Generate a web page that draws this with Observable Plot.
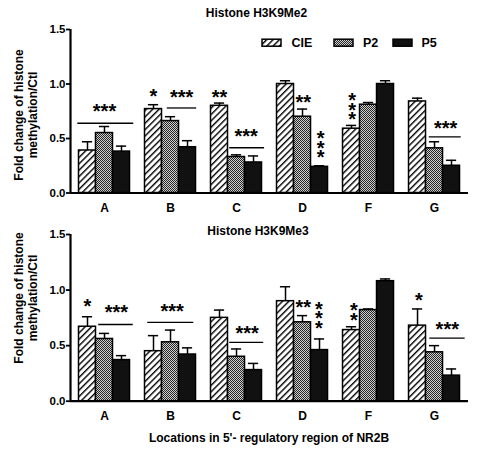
<!DOCTYPE html>
<html>
<head>
<meta charset="utf-8">
<script src="https://cdn.jsdelivr.net/npm/d3@7"></script>
<script src="https://cdn.jsdelivr.net/npm/@observablehq/plot@0.6"></script>
<style>
  html, body { margin: 0; padding: 0; background: #fff; }
  #wrap { position: relative; width: 477px; height: 453px; font-family: "Liberation Sans", Arial, sans-serif; color: #000; overflow: hidden; }
  .abs { position: absolute; white-space: nowrap; font-weight: bold; }
  .title { font-size: 12px; transform: translate(-50%, -50%); }
  .ylab { font-size: 12px; line-height: 13.5px; text-align: center; width: 200px; transform: translate(-50%, -50%) rotate(-90deg); }
  .legtext { font-size: 12.5px; transform: translateY(-50%); }
  svg.plot { position: absolute; left: 0; }
</style>
</head>
<body>
<div id="wrap"></div>
<script>
// ---------------- data ----------------
const groups = ["A", "B", "C", "D", "F", "G"];
const series = ["CIE", "P2", "P5"];
const yTicks = [0, 0.5, 1.0, 1.5];

// Histone H3K9Me2 (means and SEM)
const me2CIE    = [0.39, 0.77, 0.80, 1.00, 0.59, 0.84];
const me2CIEerr = [0.08, 0.04, 0.025, 0.03, 0.03, 0.03];
const me2P2     = [0.55, 0.66, 0.33, 0.70, 0.81, 0.41];
const me2P2err  = [0.06, 0.04, 0.02, 0.07, 0.02, 0.06];
const me2P5     = [0.38, 0.42, 0.28, 0.24, 1.00, 0.25];
const me2P5err  = [0.05, 0.06, 0.06, 0.01, 0.03, 0.05];

// Histone H3K9Me3 (means and SEM)
const me3CIE    = [0.67, 0.45, 0.75, 0.90, 0.64, 0.68];
const me3CIEerr = [0.09, 0.14, 0.07, 0.13, 0.03, 0.15];
const me3P2     = [0.56, 0.53, 0.40, 0.71, 0.82, 0.44];
const me3P2err  = [0.05, 0.11, 0.07, 0.06, 0.01, 0.06];
const me3P5     = [0.37, 0.42, 0.28, 0.46, 1.08, 0.23];
const me3P5err  = [0.04, 0.06, 0.06, 0.10, 0.02, 0.06];

// significance annotations: group, offset within group (bar units), y value, label
const me2Stars = [
  {g: "A", at: 1.5, y: 0.757, t: "***"},
  {g: "B", at: 0.5, y: 0.895, t: "*"},
  {g: "B", at: 2.16, y: 0.89, t: "***"},
  {g: "C", at: 0.5, y: 0.885, t: "**"},
  {g: "C", at: 2.07, y: 0.53, t: "***"},
  {g: "D", at: 1.55, y: 0.84, t: "**"},
  {g: "D", at: 2.56, y: 0.42, t: "*\n*\n*"},
  {g: "F", at: 0.54, y: 0.77, t: "*\n*\n*"},
  {g: "G", at: 2.15, y: 0.60, t: "***"}
];
const me2Lines = [
  {g: "A", from: -0.07, to: 3.22, y: 0.64},
  {g: "B", from: 1.31, to: 3.04, y: 0.78},
  {g: "C", from: 1.1, to: 3.15, y: 0.415},
  {g: "G", from: 1.19, to: 3.07, y: 0.515}
];
const me3Stars = [
  {g: "A", at: 0.5, y: 0.86, t: "*"},
  {g: "A", at: 2.2, y: 0.81, t: "***"},
  {g: "B", at: 1.6, y: 0.815, t: "***"},
  {g: "C", at: 2.13, y: 0.62, t: "***"},
  {g: "D", at: 1.55, y: 0.85, t: "**"},
  {g: "D", at: 2.46, y: 0.75, t: "*\n*\n*"},
  {g: "F", at: 0.64, y: 0.78, t: "*\n*"},
  {g: "G", at: 0.58, y: 0.915, t: "*"},
  {g: "G", at: 2.25, y: 0.657, t: "***"}
];
const me3Lines = [
  {g: "A", from: 1.16, to: 3.19, y: 0.69},
  {g: "B", from: 0.16, to: 2.87, y: 0.71},
  {g: "C", from: 1.1, to: 3.1, y: 0.53},
  {g: "G", from: 1.22, to: 3.3, y: 0.567}
];

// ---------------- layout (in bar-width units on a linear x scale) ----------------
const STEP = 66 / 17;      // group spacing
const OFFSET = 0.5;        // gap before first group
const XMAX = 23.41;        // axis end
const gx = g => OFFSET + groups.indexOf(g) * STEP;

const fills = {CIE: "url(#hatchCIE)", P2: "url(#dotsP2)", P5: "#111"};

function rows(means, errs) {
  const out = [];
  series.forEach((s, si) => {
    means[si].forEach((v, gi) => out.push({g: groups[gi], s, si, value: v, err: errs[si][gi]}));
  });
  return out;
}

// pattern definitions (shared by both panels and the legend)
const defsSvg = d3.select("#wrap").append("svg")
  .attr("width", 0).attr("height", 0).style("position", "absolute");
const defs = defsSvg.append("defs");
const hatch = defs.append("pattern").attr("id", "hatchCIE")
  .attr("patternUnits", "userSpaceOnUse").attr("width", 4.5).attr("height", 4.5)
  .attr("patternTransform", "rotate(45)");
hatch.append("rect").attr("width", 4.5).attr("height", 4.5).attr("fill", "#fff");
hatch.append("rect").attr("x", 0).attr("width", 1.4).attr("height", 4.5).attr("fill", "#000");
const dots = defs.append("pattern").attr("id", "dotsP2")
  .attr("patternUnits", "userSpaceOnUse").attr("width", 2).attr("height", 2);
dots.append("rect").attr("width", 2).attr("height", 2).attr("fill", "#cfcfcf");
dots.append("rect").attr("width", 1).attr("height", 1).attr("fill", "#262626");
dots.append("rect").attr("x", 1).attr("y", 1).attr("width", 1).attr("height", 1).attr("fill", "#262626");

const FONT = "Liberation Sans, Arial, sans-serif";

function panel(data, stars, lines, H, mt, mb) {
  const centers = groups.map(g => gx(g) + 1.5);
  const marks = series.map(s => Plot.rectY(data.filter(d => d.s === s), {
    x1: d => gx(d.g) + d.si,
    x2: d => gx(d.g) + d.si + 1,
    y: "value",
    fill: fills[s],
    stroke: "black",
    strokeWidth: 1.5
  }));
  return Plot.plot({
    width: 477, height: H,
    marginLeft: 70, marginRight: 9, marginTop: mt, marginBottom: mb,
    x: {domain: [0, XMAX], label: null},
    y: {domain: [0, 1.5], label: null},
    style: {fontFamily: FONT, fontWeight: "bold", background: "transparent", color: "black", overflow: "visible"},
    marks: [
      ...marks,
      Plot.ruleX(data, {x: d => gx(d.g) + d.si + 0.5, y1: "value", y2: d => d.value + d.err, stroke: "black", strokeWidth: 1.5}),
      Plot.ruleY(data, {x1: d => gx(d.g) + d.si + 0.2, x2: d => gx(d.g) + d.si + 0.8, y: d => d.value + d.err, stroke: "black", strokeWidth: 1.5}),
      Plot.ruleY(lines, {x1: d => gx(d.g) + d.from, x2: d => gx(d.g) + d.to, y: "y", stroke: "black", strokeWidth: 1.3}),
      Plot.text(stars, {x: d => gx(d.g) + d.at, y: "y", text: "t", fontSize: 20, fontWeight: "bold", lineHeight: 0.475, lineAnchor: "middle", dy: 4.6, fill: "black"}),
      Plot.axisY({ticks: yTicks, tickFormat: d3.format(".1f"), tickSize: 4, tickPadding: 1, strokeWidth: 1.8, fontSize: 11.5, fontWeight: "bold", label: null}),
      Plot.axisX({ticks: centers, tickFormat: d => groups[Math.round((d - OFFSET - 1.5) / STEP)], tickSize: 0, tickPadding: 10, fontSize: 12, fontWeight: "bold", label: null}),
      Plot.ruleX([0], {stroke: "black", strokeWidth: 2.2}),
      Plot.ruleY([0], {stroke: "black", strokeWidth: 2.2})
    ]
  });
}

const wrapEl = document.getElementById("wrap");

const topPanel = panel(rows([me2CIE, me2P2, me2P5], [me2CIEerr, me2P2err, me2P5err]), me2Stars, me2Lines, 220, 29, 27.5);
topPanel.classList.add("plot");
topPanel.style.top = "0px";
wrapEl.appendChild(topPanel);

const botPanel = panel(rows([me3CIE, me3P2, me3P5], [me3CIEerr, me3P2err, me3P5err]), me3Stars, me3Lines, 233, 14, 52.3);
botPanel.classList.add("plot");
botPanel.style.top = "220px";
wrapEl.appendChild(botPanel);

// titles and labels
function addText(cls, txt, x, y) {
  const d = document.createElement("div");
  d.className = "abs " + cls;
  d.style.left = x + "px";
  d.style.top = y + "px";
  d.innerHTML = txt;
  wrapEl.appendChild(d);
  return d;
}
addText("title", "Histone H3K9Me2", 256.5, 13);
addText("title", "Histone H3K9Me3", 258, 231);
addText("ylab", "Fold change of histone<br>methylation/Ctl", 26, 115);
addText("ylab", "Fold change of histone<br>methylation/Ctl", 26, 298);
addText("title", "Locations in 5'- regulatory region of NR2B", 269, 438);

// legend
const legendPos = [{sw: 262, tx: 291.5}, {sw: 334, tx: 363}, {sw: 392.5, tx: 421.5}];
series.forEach((s, i) => {
  const sv = d3.select("#wrap").append("svg")
    .style("position", "absolute").style("left", (legendPos[i].sw - 1) + "px").style("top", "38px")
    .attr("width", 22).attr("height", 10);
  sv.append("rect").attr("x", 1).attr("y", 1.2).attr("width", 19).attr("height", 7)
    .attr("fill", fills[s]).attr("stroke", "black").attr("stroke-width", 1.5);
  addText("legtext", s, legendPos[i].tx, 43);
});
</script>
</body>
</html>
